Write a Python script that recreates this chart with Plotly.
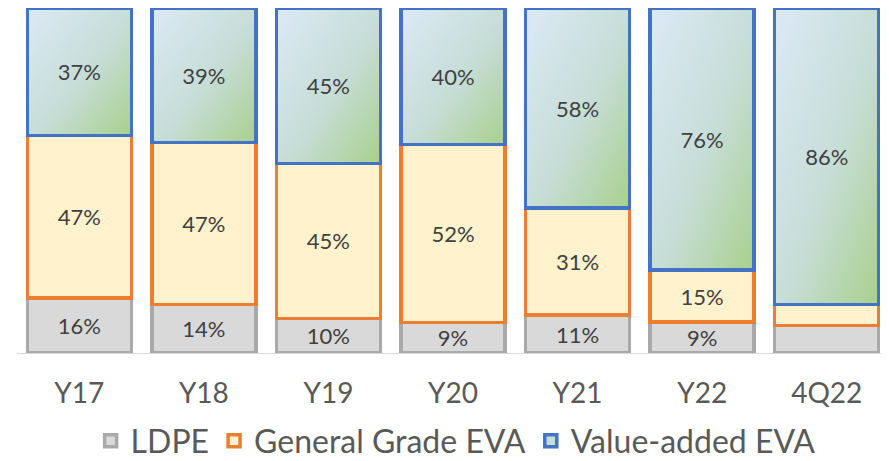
import base64
import plotly.graph_objects as go

categories = ["Y17", "Y18", "Y19", "Y20", "Y21", "Y22", "4Q22"]
ldpe = [16, 14, 10, 9, 11, 9, 8]
general_eva = [47, 47, 45, 52, 31, 15, 6]
value_eva = [37, 39, 45, 40, 58, 76, 86]
ldpe_labels = ["16%", "14%", "10%", "9%", "11%", "9%", ""]
general_labels = ["47%", "47%", "45%", "52%", "31%", "15%", ""]
value_labels = ["37%", "39%", "45%", "40%", "58%", "76%", "86%"]

FONT = "Lato"
TXT = "#404040"
BARGAP = 0.165
LW = 3.5

fig = go.Figure()
fig.add_trace(go.Bar(
    x=categories, y=ldpe, name="LDPE", text=ldpe_labels,
    marker=dict(color="#D9D9D9", line=dict(color="#A9A9A9", width=LW)),
))
fig.add_trace(go.Bar(
    x=categories, y=general_eva, name="General Grade EVA", text=general_labels,
    marker=dict(color="#FFF2CC", line=dict(color="#ED7D31", width=LW)),
))
fig.add_trace(go.Bar(
    x=categories, y=value_eva, name="Value-added EVA", text=value_labels,
    marker=dict(color="rgba(0,0,0,0)", line=dict(color="#4472C4", width=LW)),
    showlegend=False, legendgroup="va",
))
# legend entry for the gradient series
fig.add_trace(go.Bar(
    x=[None], y=[None], name="Value-added EVA", legendgroup="va",
    marker=dict(color="#C6DDDA", line=dict(color="#4472C4", width=LW)),
))

fig.update_traces(
    textposition="inside", insidetextanchor="middle", textangle=0,
    textfont=dict(family=FONT, size=22, color=TXT),
    hoverinfo="skip",
)

# gradient fill for the Value-added EVA segments, placed in data coordinates
svg = ("<svg xmlns='http://www.w3.org/2000/svg' width='100' height='100' "
       "viewBox='0 0 100 100' preserveAspectRatio='none'><defs>"
       "<linearGradient id='g' x1='0' y1='0' x2='1' y2='1'>"
       "<stop offset='0' stop-color='#DCE9F6'/><stop offset='0.55' stop-color='#C6DDD6'/>"
       "<stop offset='1' stop-color='#A8D08C'/></linearGradient></defs>"
       "<rect width='100' height='100' fill='url(#g)'/></svg>")
src = "data:image/svg+xml;base64," + base64.b64encode(svg.encode()).decode()
w = 1 - BARGAP
images = []
for i in range(len(categories)):
    tot = ldpe[i] + general_eva[i] + value_eva[i]
    h = value_eva[i] / tot * 100
    images.append(dict(
        source=src, xref="x", yref="y", x=i - w / 2, y=100.0,
        sizex=w, sizey=h, xanchor="left", yanchor="top",
        sizing="stretch", layer="below",
    ))

fig.update_layout(
    barmode="stack", barnorm="percent", bargap=BARGAP,
    width=881, height=453,
    margin=dict(l=9, r=0, t=0, b=108, autoexpand=False),
    paper_bgcolor="white", plot_bgcolor="white",
    images=images,
    uniformtext=dict(minsize=22, mode="show"),
    font=dict(family=FONT, color="#595959"),
    xaxis=dict(
        type="category", range=[-0.5, len(categories) - 0.5],
        showgrid=False, showline=True, linecolor="#D9D9D9",
        linewidth=1, ticks="", ticklabelstandoff=15,
        tickfont=dict(family=FONT, size=28, color="#595959"),
    ),
    yaxis=dict(range=[0, 100], visible=False, showgrid=False, zeroline=False),
    legend=dict(
        orientation="h", x=0.503, xanchor="center", y=-0.255, yanchor="middle",
        font=dict(family=FONT, size=32, color="#595959"),
        traceorder="normal", itemwidth=30,
    ),
    showlegend=True,
)

fig.write_html("out.html")
